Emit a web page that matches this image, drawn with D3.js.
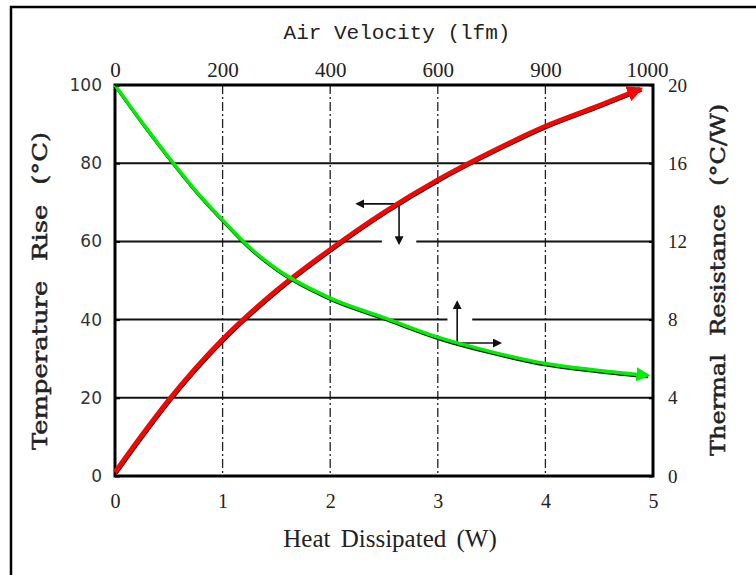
<!DOCTYPE html>
<html>
<head>
<meta charset="utf-8">
<script src="https://cdn.jsdelivr.net/npm/d3@7"></script>
<style>
  body { margin: 0; background: white; }
</style>
</head>
<body>
<script>
let heat = [0, 0.25, 0.5, 1, 1.5, 2, 2.5, 3, 3.5, 4, 4.5, 4.88]
let tempRise = [1, 10.5, 19.5, 35, 47.5, 58, 67.5, 75.8, 83, 89.5, 94.8, 99]

let heatR = [0, 0.25, 0.5, 0.75, 1, 1.25, 1.5, 2, 2.5, 3, 3.5, 4, 4.5, 4.95]
let resistance = [20, 18.1, 16.3, 14.6, 13.1, 11.7, 10.6, 9.1, 8.1, 7.1, 6.35, 5.75, 5.4, 5.15]

let heatTicks = [0, 1, 2, 3, 4, 5]
let velocityLabels = ['0', '200', '400', '600', '900', '1000']
let tempTicks = [0, 20, 40, 60, 80, 100]
let resTicks = [0, 4, 8, 12, 16, 20]

// gaps in the 60 and 40 grid lines, in watts
let gridGaps = [[60, 2.48, 2.8], [40, 3.09, 3.32]]

// the two little annotation arrows, in data units (heat, temperature)
let arrowLeft = [[2.64, 69.6], [2.25, 69.6]]
let arrowDown = [[2.64, 69.6], [2.64, 59.5]]
let arrowUp = [[3.18, 34], [3.18, 44.5]]
let arrowRight = [[3.2, 34], [3.58, 34]]

let width = 756
let height = 575
let margin = {left: 115, right: 103, top: 85, bottom: 99}

let svg = d3.select('body')
  .append('svg')
  .attr('width', width)
  .attr('height', height)

let defs = svg.append('defs')
function marker(id, color, size) {
  defs.append('marker')
    .attr('id', id)
    .attr('viewBox', '0 0 10 10')
    .attr('refX', 8)
    .attr('refY', 5)
    .attr('markerWidth', size)
    .attr('markerHeight', size)
    .attr('markerUnits', 'userSpaceOnUse')
    .attr('orient', 'auto')
    .append('path')
    .attr('d', 'M0,0 L10,5 L0,10 Z')
    .attr('fill', color)
}
marker('headRed', '#ff0000', 16)
marker('headGreen', '#00ee00', 14)
marker('headBlack', '#111', 9)

// outer frame, cropped on the right and at the bottom
svg.append('rect')
  .attr('x', 11)
  .attr('y', 7)
  .attr('width', width + 20)
  .attr('height', height + 20)
  .attr('fill', 'none')
  .attr('stroke', '#000')
  .attr('stroke-width', 2.5)

let x = d3.scaleLinear().domain([0, 5]).range([margin.left, width - margin.right])
let y = d3.scaleLinear().domain([0, 100]).range([height - margin.bottom, margin.top])
let yR = d3.scaleLinear().domain([0, 20]).range([height - margin.bottom, margin.top])

let plot = svg.append('g')

// vertical grid lines, dashed
plot.selectAll('.vgrid')
  .data(heatTicks.slice(1, -1))
  .enter()
  .append('line')
  .attr('x1', d => x(d))
  .attr('x2', d => x(d))
  .attr('y1', y(100))
  .attr('y2', y(0))
  .attr('stroke', '#222')
  .attr('stroke-width', 1.3)
  .attr('stroke-dasharray', '9,3,2,3')

// horizontal grid lines, solid, some with a gap
tempTicks.slice(1, -1).forEach(t => {
  let gap = gridGaps.find(g => g[0] == t)
  let pieces = gap ? [[0, gap[1]], [gap[2], 5]] : [[0, 5]]
  pieces.forEach(p => {
    plot.append('line')
      .attr('x1', x(p[0]))
      .attr('x2', x(p[1]))
      .attr('y1', y(t))
      .attr('y2', y(t))
      .attr('stroke', '#111')
      .attr('stroke-width', 2)
  })
})

// annotation arrows
let arrowLine = d3.line().x(d => x(d[0])).y(d => y(d[1]))
;[arrowLeft, arrowDown, arrowUp, arrowRight].forEach(a => {
  plot.append('path')
    .attr('d', arrowLine(a))
    .attr('stroke', '#111')
    .attr('stroke-width', 1.6)
    .attr('fill', 'none')
    .attr('marker-end', 'url(#headBlack)')
})

// plot frame
plot.append('rect')
  .attr('x', x(0))
  .attr('y', y(100))
  .attr('width', x(5) - x(0))
  .attr('height', y(0) - y(100))
  .attr('fill', 'none')
  .attr('stroke', '#000')
  .attr('stroke-width', 3)

// curves
let redPts = heat.map((h, i) => [h, tempRise[i]])
let greenPts = heatR.map((h, i) => [h, resistance[i]])

let redLine = d3.line().x(d => x(d[0])).y(d => y(d[1])).curve(d3.curveMonotoneX)
let greenLine = d3.line().x(d => x(d[0])).y(d => yR(d[1])).curve(d3.curveMonotoneX)

// the original black curves show a little under the coloured ones
plot.append('path')
  .attr('d', redLine(redPts))
  .attr('transform', 'translate(1.5,1.5)')
  .attr('stroke', '#111')
  .attr('stroke-width', 2.5)
  .attr('fill', 'none')
plot.append('path')
  .attr('d', greenLine(greenPts))
  .attr('transform', 'translate(0.5,1.8)')
  .attr('stroke', '#111')
  .attr('stroke-width', 2.5)
  .attr('fill', 'none')

plot.append('path')
  .attr('d', redLine(redPts))
  .attr('stroke', '#ff0000')
  .attr('stroke-width', 4.5)
  .attr('fill', 'none')
  .attr('marker-end', 'url(#headRed)')

plot.append('path')
  .attr('d', greenLine(greenPts))
  .attr('stroke', '#00ee00')
  .attr('stroke-width', 3.5)
  .attr('fill', 'none')
  .attr('marker-end', 'url(#headGreen)')

// axes
let serif = '"Liberation Serif", "DejaVu Serif", serif'

let bottomAxis = svg.append('g')
  .attr('transform', 'translate(0,' + y(0) + ')')
  .call(d3.axisBottom(x).tickValues(heatTicks).tickSize(0).tickPadding(18).tickFormat(d3.format('d')))
bottomAxis.select('.domain').remove()
bottomAxis.selectAll('text')
  .attr('font-family', serif)
  .attr('font-size', 20)
  .attr('fill', '#222')

let topAxis = svg.append('g')
  .attr('transform', 'translate(0,' + y(100) + ')')
  .call(d3.axisTop(x).tickValues(heatTicks).tickSize(0).tickPadding(8).tickFormat((d, i) => velocityLabels[i]))
topAxis.select('.domain').remove()
topAxis.selectAll('text')
  .attr('font-family', serif)
  .attr('font-size', 21)
  .attr('fill', '#222')
topAxis.selectAll('.tick:last-of-type text').attr('dx', -6)

let leftAxis = svg.append('g')
  .attr('transform', 'translate(' + x(0) + ',0)')
  .call(d3.axisLeft(y).tickValues(tempTicks).tickSize(-5).tickPadding(13))
leftAxis.select('.domain').remove()
leftAxis.selectAll('line').attr('stroke-width', 2)
leftAxis.selectAll('text')
  .attr('font-family', '"DejaVu Sans", sans-serif')
  .attr('font-size', 17)
  .attr('fill', '#333')

let rightAxis = svg.append('g')
  .attr('transform', 'translate(' + x(5) + ',0)')
  .call(d3.axisRight(yR).tickValues(resTicks).tickSize(-4).tickPadding(15))
rightAxis.select('.domain').remove()
rightAxis.selectAll('line').attr('stroke-width', 2)
rightAxis.selectAll('text')
  .attr('font-family', serif)
  .attr('font-size', 19)
  .attr('fill', '#222')

// axis titles
svg.append('text')
  .attr('x', 397)
  .attr('y', 39)
  .attr('text-anchor', 'middle')
  .attr('font-family', '"Liberation Mono", "DejaVu Sans Mono", monospace')
  .attr('font-size', 21)
  .attr('fill', '#222')
  .text('Air Velocity (lfm)')

svg.append('text')
  .attr('x', 390)
  .attr('y', 547)
  .attr('text-anchor', 'middle')
  .attr('font-family', serif)
  .attr('font-size', 25)
  .attr('word-spacing', 4)
  .attr('fill', '#222')
  .text('Heat Dissipated (W)')

svg.append('text')
  .attr('transform', 'translate(47,291) rotate(-90)')
  .attr('text-anchor', 'middle')
  .attr('font-family', '"DejaVu Serif", serif')
  .attr('font-size', 20)
  .attr('word-spacing', 9)
  .attr('textLength', 318)
  .attr('lengthAdjust', 'spacingAndGlyphs')
  .attr('fill', '#222')
  .attr('stroke', '#222')
  .attr('stroke-width', 0.5)
  .text('Temperature Rise (°C)')

svg.append('text')
  .attr('transform', 'translate(725,280) rotate(-90)')
  .attr('text-anchor', 'middle')
  .attr('font-family', '"DejaVu Serif", serif')
  .attr('font-size', 20)
  .attr('word-spacing', 9)
  .attr('textLength', 352)
  .attr('lengthAdjust', 'spacingAndGlyphs')
  .attr('fill', '#222')
  .attr('stroke', '#222')
  .attr('stroke-width', 0.5)
  .text('Thermal Resistance (°C/W)')
</script>
</body>
</html>
